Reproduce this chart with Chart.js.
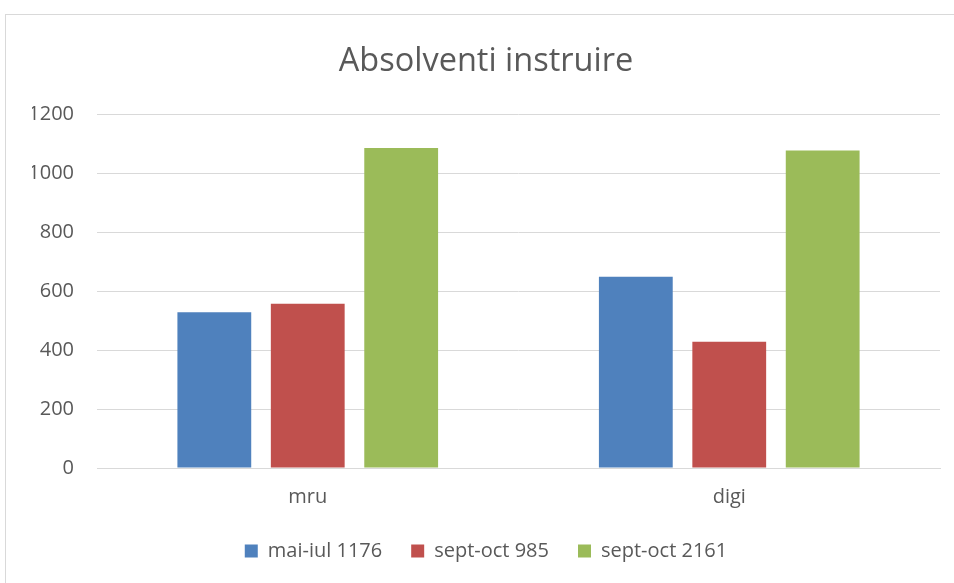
<!DOCTYPE html>
<html>
<head>
<meta charset="utf-8">
<script src="https://cdn.jsdelivr.net/npm/chart.js@4/dist/chart.umd.min.js"></script>
<style>
  html, body { margin: 0; padding: 0; background: #fff; overflow: hidden; }
  #wrap { position: relative; width: 954px; height: 583px; }
  #frame { position: absolute; left: 5px; top: 14px; width: 960px; height: 600px; border: 1px solid #d9d9d9; box-sizing: border-box; }
  canvas { position: absolute; left: 0; top: 0; }
</style>
</head>
<body>
<div id="wrap">
  <div id="frame"></div>
  <canvas id="chart" width="954" height="583"></canvas>
</div>
<script>
// Datos del gráfico
const categories = ['mru', 'digi'];
const seriesNames = ['mai-iul 1176', 'sept-oct 985', 'sept-oct 2161'];
const maiIul1176 = [528, 648];
const septOct985 = [557, 428];
const septOct2161 = [1085, 1076];
const yTicks = [0, 200, 400, 600, 800, 1000, 1200];

const colors = ['#4F81BD', '#C0504D', '#9BBB59'];
const textColor = '#595959';
const gridColor = '#d9d9d9';
const fontFamily = '"Open Sans", "Liberation Sans", sans-serif';

const seriesValues = [maiIul1176, septOct985, septOct2161];

const ctx = document.getElementById('chart').getContext('2d');
new Chart(ctx, {
  type: 'bar',
  data: {
    labels: categories,
    datasets: seriesNames.map((name, i) => ({
      label: name,
      data: seriesValues[i],
      backgroundColor: colors[i],
      borderWidth: 0,
      categoryPercentage: 0.665,
      barPercentage: 0.79
    }))
  },
  options: {
    responsive: false,
    animation: false,
    // el marco del gráfico original es más ancho que la imagen, por eso el título va desplazado
    layout: { padding: { left: 32, right: 14, top: 0, bottom: 12 } },
    plugins: {
      title: {
        display: true,
        text: 'Absolventi instruire',
        color: textColor,
        font: { family: fontFamily, size: 32.5, weight: 'normal' },
        padding: { top: 42, bottom: 33 }
      },
      legend: {
        position: 'bottom',
        labels: {
          color: textColor,
          font: { family: fontFamily, size: 20 },
          boxWidth: 13,
          boxHeight: 13,
          padding: 29
        }
      },
      tooltip: { enabled: false }
    },
    scales: {
      x: {
        grid: { display: false, drawTicks: false },
        border: { color: gridColor },
        ticks: { color: textColor, font: { family: fontFamily, size: 20 }, padding: 17 },
        afterFit: s => { s.height = 44; }
      },
      y: {
        min: 0,
        max: 1200,
        afterBuildTicks: s => { s.ticks = yTicks.map(v => ({ value: v })); },
        grid: { color: gridColor, lineWidth: 1, drawTicks: false },
        border: { display: false },
        ticks: {
          color: textColor,
          font: { family: fontFamily, size: 20 },
          padding: 23,
          callback: v => String(v)
        },
        afterFit: s => { s.width = 65; }
      }
    }
  }
});
</script>
</body>
</html>
